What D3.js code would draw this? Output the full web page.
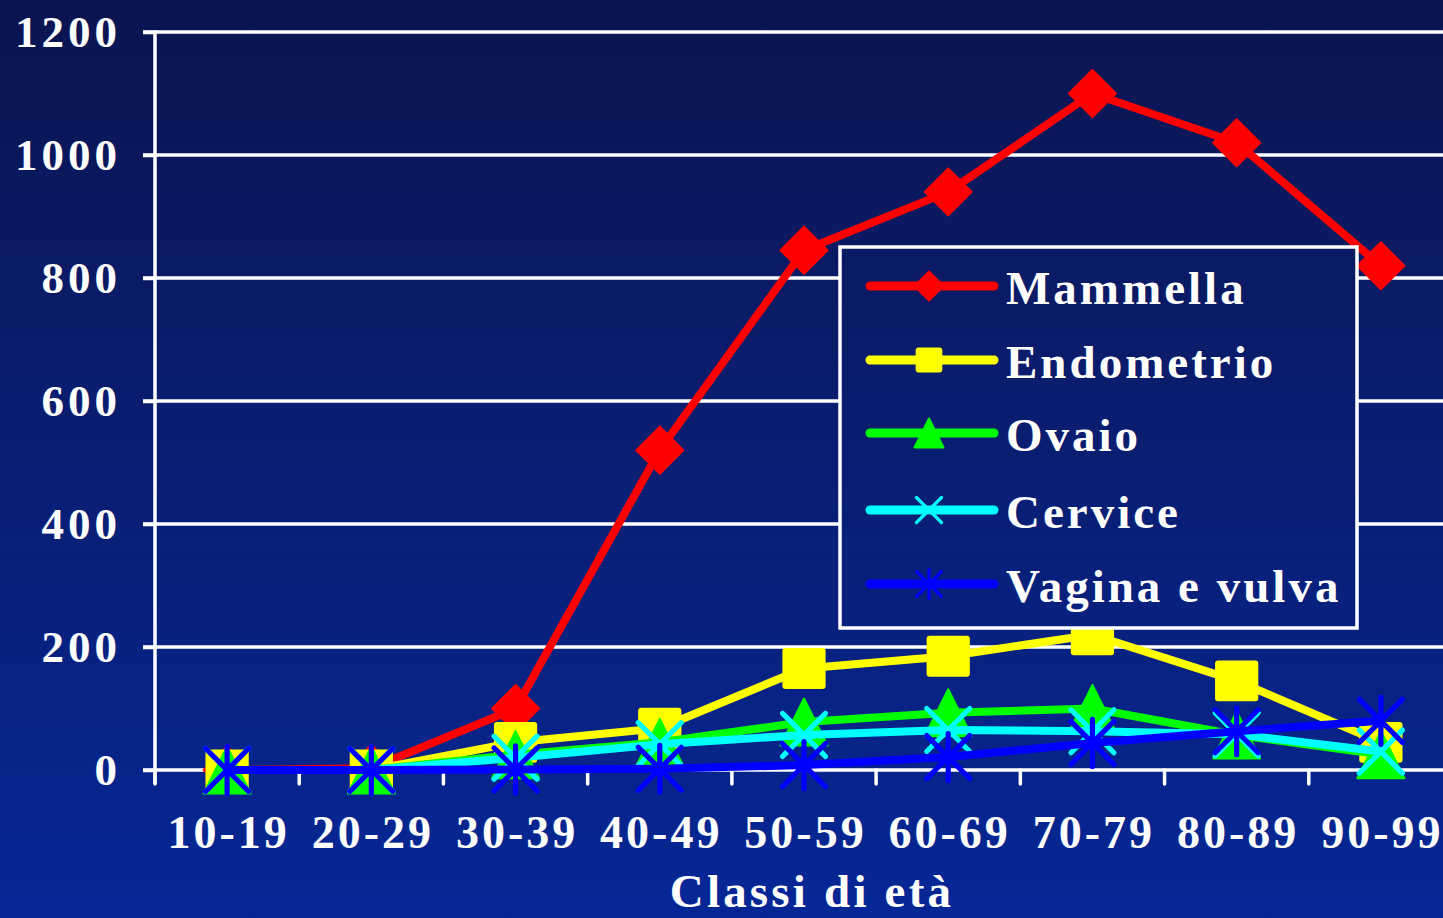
<!DOCTYPE html>
<html>
<head>
<meta charset="utf-8">
<script src="https://cdn.jsdelivr.net/npm/d3@7"></script>
<style>
  html, body { margin: 0; padding: 0; background: #0a1a6a; }
  svg { display: block; }
  text { font-family: "Liberation Serif", "Times New Roman", serif; font-weight: bold; fill: #ffffff; }
</style>
</head>
<body>
<script>
// Age classes and case counts per tumour site
const categories = ["10-19", "20-29", "30-39", "40-49", "50-59", "60-69", "70-79", "80-89", "90-99"];
const mammella   = [0, 3, 100, 520, 845, 940, 1100, 1020, 820];
const endometrio = [0, 0, 45, 68, 165, 185, 220, 145, 45];
const ovaio      = [0, 0, 25, 45, 78, 93, 100, 57, 25];
const cervice    = [0, 0, 20, 42, 57, 65, 63, 58, 30];
const vagina     = [0, 0, 1, 2, 8, 21, 44, 63, 80];
const yTicks     = [0, 200, 400, 600, 800, 1000, 1200];
const seriesNames = ["Mammella", "Endometrio", "Ovaio", "Cervice", "Vagina e vulva"];
const xTitle = "Classi di età";

const series = [
  { name: seriesNames[0], values: mammella,   color: "#ff0000", marker: "diamond" },
  { name: seriesNames[1], values: endometrio, color: "#ffff00", marker: "square" },
  { name: seriesNames[2], values: ovaio,      color: "#00ff00", marker: "triangle" },
  { name: seriesNames[3], values: cervice,    color: "#00ffff", marker: "x" },
  { name: seriesNames[4], values: vagina,     color: "#0000ff", marker: "star" }
];

const W = 1443, H = 918;
const plot = { left: 155, right: 1453, top: 32, bottom: 770 };

const svg = d3.select("body").append("svg").attr("width", W).attr("height", H);

// Vertical background gradient, shared by the legend box
const defs = svg.append("defs");
const grad = defs.append("linearGradient").attr("id", "bg")
  .attr("gradientUnits", "userSpaceOnUse")
  .attr("x1", 0).attr("y1", 0).attr("x2", 0).attr("y2", H);
grad.append("stop").attr("offset", "0%").attr("stop-color", "#0a1450");
grad.append("stop").attr("offset", "50%").attr("stop-color", "#0a1e72");
grad.append("stop").attr("offset", "100%").attr("stop-color", "#052796");
svg.append("rect").attr("width", W).attr("height", H).attr("fill", "url(#bg)");

const x = d3.scaleBand().domain(categories).range([plot.left, plot.right]).paddingInner(0).paddingOuter(0);
const y = d3.scaleLinear().domain([0, 1200]).range([plot.bottom, plot.top]);
const cx = c => x(c) + x.bandwidth() / 2;

// Horizontal gridlines with left tick stubs
svg.append("g").selectAll("line").data(yTicks.filter(t => t > 0)).join("line")
  .attr("x1", plot.left - 12).attr("x2", W)
  .attr("y1", d => y(d)).attr("y2", d => y(d))
  .attr("stroke", "#ffffff").attr("stroke-width", 3.5);

// Y axis
const yAxis = svg.append("g").attr("transform", `translate(${plot.left},0)`)
  .call(d3.axisLeft(y).tickValues(yTicks).tickSize(12).tickPadding(0).tickFormat(d3.format("d")));
yAxis.select(".domain").remove();
yAxis.selectAll(".tick line").attr("stroke", "#fff").attr("stroke-width", 3.5);
yAxis.selectAll(".tick text")
  .attr("x", -34).attr("dy", "0.33em")
  .style("font-size", "45px").style("letter-spacing", "4px")
  .attr("fill", "#fff").attr("text-anchor", "end");
svg.append("line").attr("x1", plot.left).attr("x2", plot.left)
  .attr("y1", plot.top - 1.5).attr("y2", plot.bottom + 14)
  .attr("stroke", "#fff").attr("stroke-width", 3.5);

// X axis line, boundary ticks and labels
svg.append("line").attr("x1", plot.left - 12).attr("x2", W)
  .attr("y1", plot.bottom).attr("y2", plot.bottom)
  .attr("stroke", "#fff").attr("stroke-width", 3.5);
const bounds = categories.map(c => x(c)).concat([plot.right]);
svg.append("g").selectAll("line").data(bounds).join("line")
  .attr("x1", d => d).attr("x2", d => d)
  .attr("y1", plot.bottom).attr("y2", plot.bottom + 14)
  .attr("stroke", "#fff").attr("stroke-width", 3.5).attr("stroke-linecap", "round");
svg.append("g").selectAll("text").data(categories).join("text")
  .attr("x", d => cx(d) + 1.5).attr("y", 848)
  .attr("text-anchor", "middle")
  .style("font-size", "46px").style("letter-spacing", "3px")
  .text(d => d);
svg.append("text").attr("x", 812).attr("y", 907).attr("text-anchor", "middle")
  .style("font-size", "47px").style("letter-spacing", "3.2px")
  .text(xTitle);

// Marker drawing
function drawMarker(g, type, px, py, s, color) {
  const h = s / 2;
  if (type === "diamond") {
    g.append("path").attr("d", `M${px},${py - h}L${px + h},${py}L${px},${py + h}L${px - h},${py}Z`)
      .attr("fill", color).attr("stroke", color).attr("stroke-width", 2).attr("stroke-linejoin", "round");
  } else if (type === "square") {
    const w = s * 0.92, hh = s * 0.87;
    g.append("rect").attr("x", px - w / 2).attr("y", py - hh / 2).attr("width", w).attr("height", hh)
      .attr("rx", 3).attr("fill", color);
  } else if (type === "triangle") {
    g.append("path").attr("d", `M${px},${py - h}L${px + h},${py + h}L${px - h},${py + h}Z`)
      .attr("fill", color).attr("stroke", color).attr("stroke-width", 2).attr("stroke-linejoin", "round");
  } else if (type === "x") {
    const r = h - 2;
    g.append("path").attr("d", `M${px - r},${py - r}L${px + r},${py + r}M${px - r},${py + r}L${px + r},${py - r}`)
      .attr("stroke", color).attr("stroke-width", s * 0.11).attr("stroke-linecap", "round").attr("fill", "none");
  } else if (type === "star") {
    const r = h - 2;
    g.append("path").attr("d", `M${px - r},${py - r}L${px + r},${py + r}M${px - r},${py + r}L${px + r},${py - r}M${px},${py - h}L${px},${py + h}`)
      .attr("stroke", color).attr("stroke-width", s * 0.11).attr("stroke-linecap", "round").attr("fill", "none");
  }
}

// Series lines and markers
const line = d3.line().x((d, i) => cx(categories[i])).y(d => y(d));
series.forEach(sr => {
  const g = svg.append("g");
  g.append("path").datum(sr.values).attr("d", line)
    .attr("fill", "none").attr("stroke", sr.color).attr("stroke-width", 8)
    .attr("stroke-linejoin", "round").attr("stroke-linecap", "round");
  sr.values.forEach((v, i) => drawMarker(g, sr.marker, cx(categories[i]), y(v), 47, sr.color));
});

// Legend
const lg = svg.append("g");
lg.append("rect").attr("x", 840).attr("y", 247).attr("width", 517).attr("height", 381)
  .attr("fill", "url(#bg)").attr("stroke", "#fff").attr("stroke-width", 3.5);
const legendRows = [286, 360, 433, 510, 584];
series.forEach((sr, i) => {
  const ly = legendRows[i];
  lg.append("line").attr("x1", 870).attr("x2", 994).attr("y1", ly).attr("y2", ly)
    .attr("stroke", sr.color).attr("stroke-width", 9).attr("stroke-linecap", "round");
  drawMarker(lg, sr.marker, 929, ly, 29, sr.color);
  lg.append("text").attr("x", 1006).attr("y", ly + 18)
    .style("font-size", "47px").style("letter-spacing", "3px")
    .text(sr.name);
});
</script>
</body>
</html>
